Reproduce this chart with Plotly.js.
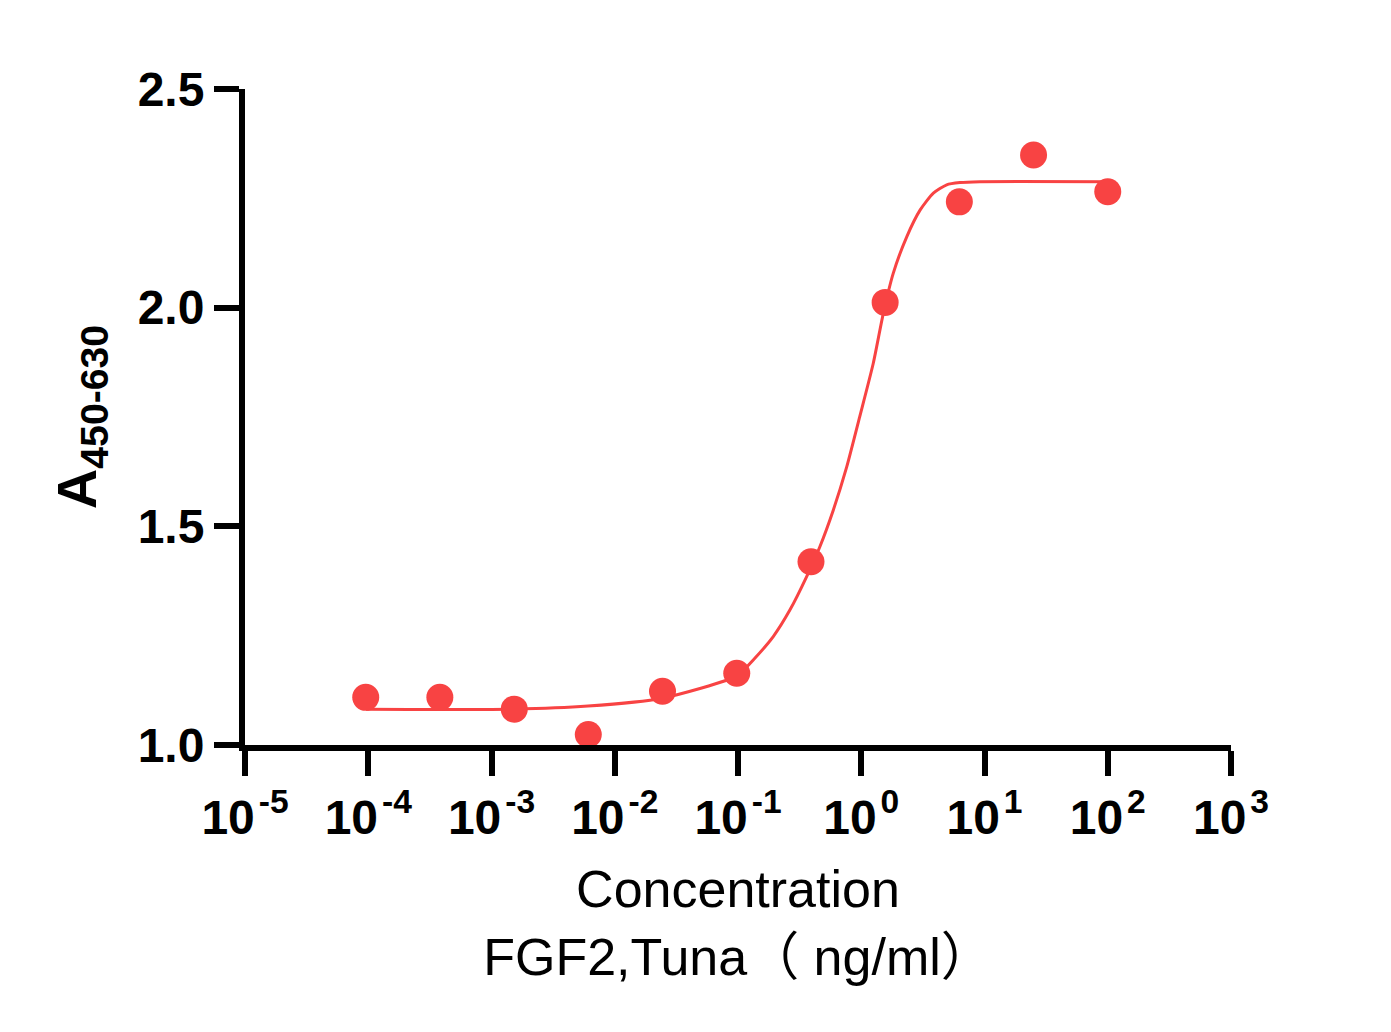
<!DOCTYPE html>
<html>
<head>
<meta charset="utf-8">
<script src="https://cdn.plot.ly/plotly-3.0.1.min.js"></script>
<style>
    body { margin: 0; background: #fff; }
    #chart { width: 1391px; height: 1032px; }
</style>
</head>
<body>
<div id="chart"></div>
<script>
// measured points (4-fold dilution from 100 ng/ml)
let concentration = [0.0000954, 0.000381, 0.00153, 0.0061, 0.0244, 0.0977, 0.391, 1.5625, 6.25, 25, 100];
let absorbance = [1.109, 1.109, 1.082, 1.024, 1.123, 1.164, 1.419, 2.012, 2.242, 2.349, 2.265];

// fitted curve
let fitConcentration = [0.0000959, 0.001524, 0.00607, 0.02415, 0.0982, 0.1324, 0.1932, 0.2642, 0.3606, 0.4624,
    0.5929, 0.7621, 0.9723, 1.252, 1.510, 1.820, 2.339, 2.999, 3.846, 4.932, 6.324, 9.183, 100];
let fitAbsorbance = [1.082, 1.082, 1.089, 1.107, 1.158, 1.194, 1.248, 1.309, 1.385, 1.454,
    1.537, 1.636, 1.751, 1.873, 1.987, 2.079, 2.162, 2.223, 2.262, 2.281, 2.286, 2.288, 2.288];

let xTickVals = [1e-5, 1e-4, 1e-3, 1e-2, 1e-1, 1, 10, 100, 1000];
let xTickText = ['10\u200a<sup>-5</sup>', '10\u200a<sup>-4</sup>', '10\u200a<sup>-3</sup>', '10\u200a<sup>-2</sup>',
    '10\u200a<sup>-1</sup>', '10\u200a<sup>0</sup>', '10\u200a<sup>1</sup>', '10\u200a<sup>2</sup>', '10\u200a<sup>3</sup>'];
let yTickVals = [1.0, 1.5, 2.0, 2.5];
let yTickText = ['1.0', '1.5', '2.0', '2.5'];

let red = '#f84343';
let fontFamily = 'Liberation Sans, Arial, Noto Sans CJK SC, sans-serif';

let data = [
    {
        x: fitConcentration,
        y: fitAbsorbance,
        type: 'scatter',
        mode: 'lines',
        line: { color: red, width: 3, shape: 'spline', smoothing: 0.6 },
        hoverinfo: 'skip',
        cliponaxis: false
    },
    {
        x: concentration,
        y: absorbance,
        type: 'scatter',
        mode: 'markers',
        marker: { color: red, size: 27 },
        cliponaxis: false
    }
];

let layout = {
    width: 1391,
    height: 1032,
    showlegend: false,
    paper_bgcolor: '#fff',
    plot_bgcolor: '#fff',
    font: { family: fontFamily, color: '#000' },
    margin: { l: 245, r: 160, t: 89, b: 287 },
    xaxis: {
        type: 'log',
        range: [-5, 3],
        tickvals: xTickVals,
        ticktext: xTickText,
        tickfont: { size: 48, weight: 'bold' },
        ticks: 'outside',
        ticklen: 25,
        tickwidth: 6,
        tickcolor: '#000',
        showline: true,
        linewidth: 6,
        linecolor: '#000',
        showgrid: false,
        zeroline: false,
        title: {
            text: 'Concentration<br>FGF2,Tuna（ ng/ml）',
            font: { size: 52 },
            standoff: 30
        }
    },
    yaxis: {
        range: [1, 2.5],
        tickvals: yTickVals,
        ticktext: yTickText,
        tickfont: { size: 48, weight: 'bold' },
        ticks: 'outside',
        ticklen: 25,
        tickwidth: 6,
        tickcolor: '#000',
        showline: true,
        linewidth: 6,
        linecolor: '#000',
        showgrid: false,
        zeroline: false,
        title: {
            text: '<b>A<sub>450-630</sub></b>',
            font: { size: 56 },
            standoff: 25
        }
    }
};

Plotly.newPlot('chart', data, layout, { staticPlot: true });
</script>
</body>
</html>
